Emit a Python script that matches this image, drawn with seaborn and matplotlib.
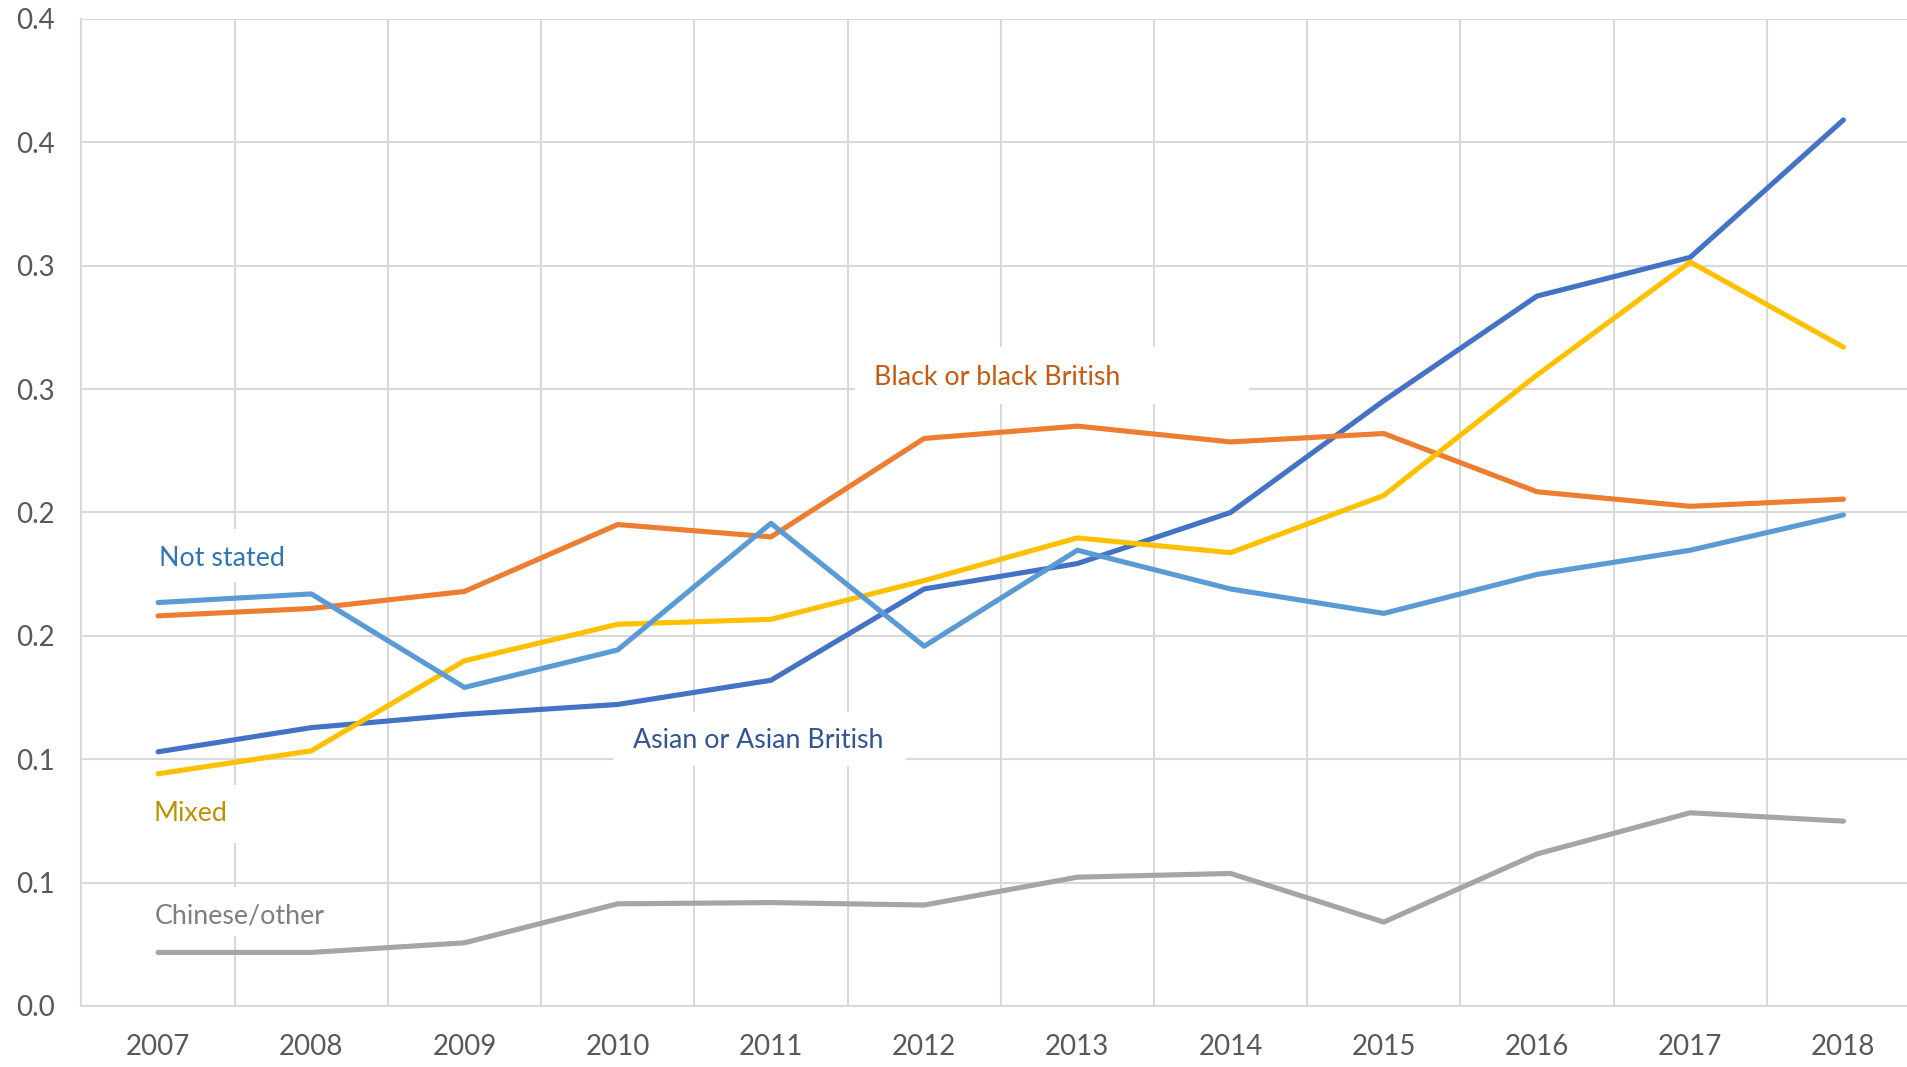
import numpy as np
import pandas as pd
import matplotlib
matplotlib.use("Agg")
import matplotlib.pyplot as plt
from matplotlib.patches import Rectangle
from matplotlib.ticker import FixedLocator
import seaborn as sns

years = [2007, 2008, 2009, 2010, 2011, 2012, 2013, 2014, 2015, 2016, 2017, 2018]

asian = [0.1030, 0.1128, 0.1182, 0.1222, 0.1320, 0.1690, 0.1793, 0.2000, 0.2453, 0.2877, 0.3034, 0.3591]
black = [0.1581, 0.1611, 0.1680, 0.1951, 0.1901, 0.2300, 0.2350, 0.2286, 0.2320, 0.2084, 0.2025, 0.2054]
chinese = [0.0217, 0.0217, 0.0256, 0.0414, 0.0419, 0.0409, 0.0522, 0.0537, 0.0340, 0.0616, 0.0783, 0.0749]
mixed = [0.0941, 0.1034, 0.1399, 0.1547, 0.1567, 0.1724, 0.1897, 0.1837, 0.2069, 0.2557, 0.3015, 0.2670]
not_stated = [0.1635, 0.1670, 0.1291, 0.1443, 0.1956, 0.1458, 0.1847, 0.1690, 0.1591, 0.1749, 0.1847, 0.1990]

series_names = ["Asian or Asian British", "Black or black British", "Chinese/other", "Mixed", "Not stated"]
series_values = [asian, black, chinese, mixed, not_stated]

y_ticks = [0.0, 0.05, 0.10, 0.15, 0.20, 0.25, 0.30, 0.35, 0.40]
y_tick_labels = ["0.0", "0.1", "0.1", "0.2", "0.2", "0.3", "0.3", "0.4", "0.4"]

line_colors = {
    "Asian or Asian British": "#4472C4",
    "Black or black British": "#ED7D31",
    "Chinese/other": "#A5A5A5",
    "Mixed": "#FFC000",
    "Not stated": "#5B9BD5",
}
label_colors = {
    "Asian or Asian British": "#2F5597",
    "Black or black British": "#C55A11",
    "Chinese/other": "#7F7F7F",
    "Mixed": "#BF9000",
    "Not stated": "#2E75B6",
}

rows = []
for name, vals in zip(series_names, series_values):
    for yr, v in zip(years, vals):
        rows.append({"year": yr, "value": v, "group": name})
df = pd.DataFrame(rows)

sns.set_theme(style="white")
plt.rcParams["font.family"] = ["Lato", "DejaVu Sans"]

fig = plt.figure(figsize=(19.08, 10.67), dpi=100)
ax = fig.add_axes([0.0427, 0.0572, 1.0063 - 0.0427, 0.9822 - 0.0572])

grid_color = "#D9D9D9"
ax.set_axisbelow(True)

sns.lineplot(data=df, x="year", y="value", hue="group", hue_order=series_names,
             palette=line_colors, linewidth=3.7, ax=ax, legend=False,
             solid_capstyle="round", solid_joinstyle="round", zorder=3)

ax.set_xlim(2006.5, 2018.5)
ax.set_ylim(0, 0.4)
ax.xaxis.set_major_locator(FixedLocator(years))
ax.set_xticklabels([str(y) for y in years])
ax.xaxis.set_minor_locator(FixedLocator([y + 0.5 for y in years]))
ax.yaxis.set_major_locator(FixedLocator(y_ticks))
ax.set_yticklabels(y_tick_labels)

ax.grid(False)
ax.grid(True, which="minor", axis="x", color=grid_color, linewidth=1.5, zorder=0.5)
ax.grid(True, which="major", axis="y", color=grid_color, linewidth=1.5, zorder=0.5)

ax.tick_params(axis="both", which="both", length=0, labelsize=20, labelcolor="#595959")
ax.tick_params(axis="y", pad=19)
ax.tick_params(axis="x", pad=20)
ax.set_xlabel("")
ax.set_ylabel("")

for side in ["top", "right"]:
    ax.spines[side].set_visible(False)
for side in ["left", "bottom"]:
    ax.spines[side].set_color(grid_color)
    ax.spines[side].set_linewidth(1.5)
    ax.spines[side].set_zorder(0.6)

# data labels: (name, text x, text y, box x0, box x1, box y0, box y1)
labels = [
    ("Not stated", 2007.42, 0.1812, 2006.93, 2007.91, 0.1718, 0.1933),
    ("Black or black British", 2012.48, 0.2549, 2011.55, 2014.12, 0.2440, 0.2671),
    ("Asian or Asian British", 2010.92, 0.1077, 2009.97, 2011.88, 0.0973, 0.1192),
    ("Mixed", 2007.21, 0.0780, 2006.88, 2007.54, 0.0661, 0.0896),
    ("Chinese/other", 2007.53, 0.0365, 2006.95, 2008.11, 0.0284, 0.0482),
]
for name, tx, ty, x0, x1, y0, y1 in labels:
    ax.add_patch(Rectangle((x0, y0), x1 - x0, y1 - y0, facecolor="white",
                           edgecolor="none", zorder=1))
    ax.text(tx, ty, name, color=label_colors[name], fontsize=19.3,
            ha="center", va="center", zorder=4)

fig.savefig("out.png", dpi=100, facecolor="white")
